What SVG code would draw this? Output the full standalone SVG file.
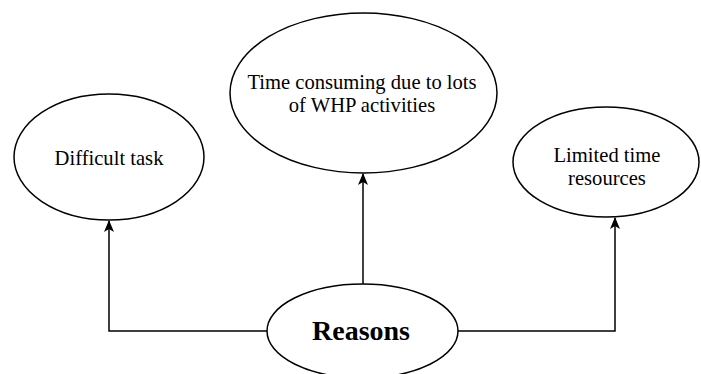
<svg xmlns="http://www.w3.org/2000/svg" width="701" height="374" viewBox="0 0 701 374">
<style>
.node ellipse{fill:#fff;stroke:#000;stroke-width:1.5}
.node text{font-family:"Liberation Serif","Times New Roman",serif;font-size:20.6px;fill:#000;text-anchor:middle}
.node text.b{font-weight:bold;font-size:28px}
#connectors path{fill:none;stroke:#000;stroke-width:1.5}
</style>
<defs>
<marker id="ah" viewBox="0 0 12 10" refX="11" refY="5" markerWidth="12" markerHeight="10" markerUnits="userSpaceOnUse" orient="auto">
<path d="M0,0 L12,5 L0,10 L3,5 Z" fill="#000"/>
</marker>
</defs>
<rect width="701" height="374" fill="#fff"/>
<g id="connectors">
<path d="M267,331 H109 V221" marker-end="url(#ah)"/>
<path d="M363,284 V174" marker-end="url(#ah)"/>
<path d="M458,331 H615 V218" marker-end="url(#ah)"/>
</g>
<g id="node-difficult" class="node">
<ellipse cx="109" cy="157" rx="95" ry="63"/>
<text x="109" y="165">Difficult task</text>
</g>
<g id="node-time" class="node">
<ellipse cx="363.5" cy="93" rx="133.5" ry="80"/>
<text x="362" y="89">Time consuming due to lots</text>
<text x="362" y="112">of WHP activities</text>
</g>
<g id="node-limited" class="node">
<ellipse cx="606" cy="162" rx="93" ry="55"/>
<text x="607" y="162">Limited time</text>
<text x="607" y="185">resources</text>
</g>
<g id="node-reasons" class="node">
<ellipse cx="362.5" cy="331" rx="95.5" ry="47"/>
<text class="b" x="361" y="340">Reasons</text>
</g>
</svg>
